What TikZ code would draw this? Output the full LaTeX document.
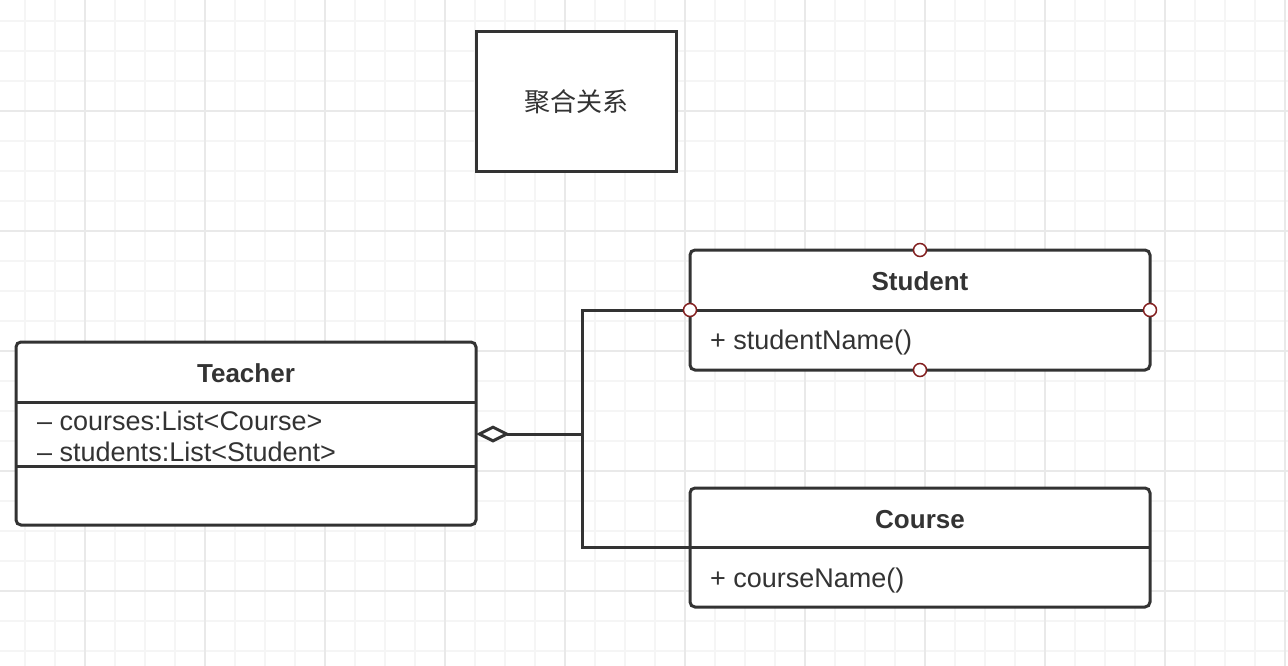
\documentclass[tikz,border=0pt]{standalone}
\usepackage{fontspec}
\setmainfont{Liberation Sans}
\newfontfamily\cjkfont{Noto Sans CJK SC}
\usepackage{tikz}
\usetikzlibrary{arrows.meta, calc}
\definecolor{umlInk}{RGB}{51,51,51}
\definecolor{gridMinor}{RGB}{245,245,245}
\definecolor{gridMajor}{RGB}{233,233,233}
\definecolor{pinRed}{RGB}{130,30,30}
\tikzset{
  classbox/.style={draw=umlInk, fill=white, line width=3pt, rounded corners=5pt,
    minimum width=460pt, inner sep=0pt, outer sep=0pt},
  notebox/.style={draw=umlInk, fill=white, line width=3pt, minimum width=200pt,
    minimum height=140pt, inner sep=0pt, outer sep=0pt, text=umlInk},
  classname/.style={text=umlInk, font=\fontsize{26}{30}\selectfont\bfseries},
  member/.style={text=umlInk, anchor=west, inner sep=0pt, font=\fontsize{27}{31}\selectfont},
  divider/.style={draw=umlInk, line width=3pt},
  link/.style={draw=umlInk, line width=3pt},
  pin/.style={circle, draw=pinRed, fill=white, line width=1.5pt, minimum size=13pt, inner sep=0pt}
}

\begin{document}
\begin{tikzpicture}[x=1pt, y=-1pt, line cap=butt]

  \fill[white] (0,0) rectangle (1288,666);
  \useasboundingbox (0,0) rectangle (1288,666);

  % background grid
  \foreach \gx in {25,55,...,1285} \draw[gridMinor, line width=2pt] (\gx,0) -- (\gx,666);
  \foreach \gy in {21,51,...,651} \draw[gridMinor, line width=2pt] (0,\gy) -- (1288,\gy);
  \foreach \gx in {85,205,...,1285} \draw[gridMajor, line width=2pt] (\gx,0) -- (\gx,666);
  \foreach \gy in {111,231,...,591} \draw[gridMajor, line width=2pt] (0,\gy) -- (1288,\gy);

  \node[notebox] (title) at (576,102) {\cjkfont\fontsize{26}{30}\selectfont 聚合关系};

  % Teacher
  \node[classbox, minimum height=183pt] (teacher) at (246,433.5) {};
  \draw[divider] ([yshift=-60pt]teacher.north west) -- ([yshift=-60pt]teacher.north east);
  \draw[divider] ([yshift=-124pt]teacher.north west) -- ([yshift=-124pt]teacher.north east);
  \node[classname] (teacherName) at ($(teacher.north)+(0,31)$) {Teacher};
  \node[member] (teacherCourses) at (37,421) {– courses:List<Course>};
  \node[member] (teacherStudents) at (37,452) {– students:List<Student>};

  % Student
  \node[classbox, minimum height=120pt] (student) at (920,310) {};
  \draw[divider] (student.west) -- (student.east);
  \node[classname] (studentName) at ($(student.north)+(0,31)$) {Student};
  \node[member] (studentOp) at ($(student.west)+(20,33)$) {+ studentName()};

  % Course
  \node[classbox, minimum height=119pt] (course) at (920,547.5) {};
  \draw[divider] (course.west) -- (course.east);
  \node[classname] (courseName) at ($(course.north)+(0,31.5)$) {Course};
  \node[member] (courseOp) at ($(course.west)+(20,33.5)$) {+ courseName()};

  % aggregation
  \coordinate (trunk) at (582,434);
  \draw[link, {Diamond[length=34pt, width=17pt, fill=white, line width=3pt]}-] (teacher.east |- trunk) -- (trunk);
  \draw[link] (trunk) |- (student.west);
  \draw[link] (trunk) |- (course.west);

  \node[pin] (pinN) at (student.north) {};
  \node[pin] (pinW) at (student.west) {};
  \node[pin] (pinE) at (student.east) {};
  \node[pin] (pinS) at (student.south) {};
\end{tikzpicture}
\end{document}
